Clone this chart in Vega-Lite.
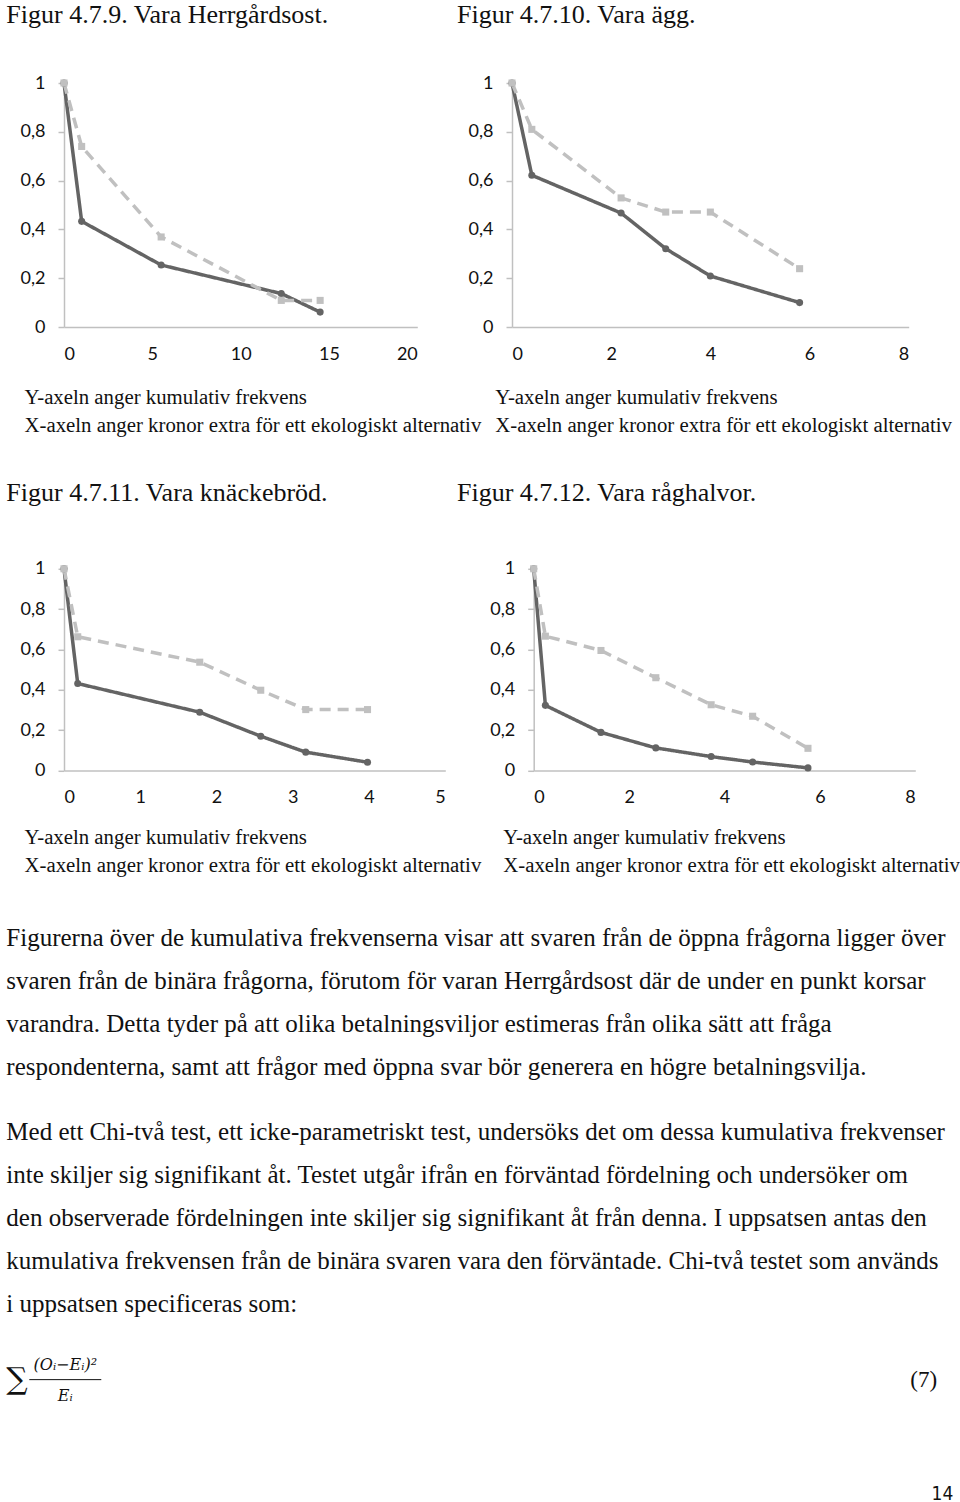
{
  "$schema": "https://vega.github.io/schema/vega-lite/v6.json",
  "background": "white",
  "padding": {"left": 5, "top": 1, "right": 0, "bottom": 0},
  "spacing": 42.8,
  "config": {
    "view": {"stroke": "transparent"},
    "title": {"font": "Liberation Serif", "fontSize": 26, "fontWeight": "normal", "color": "#111", "anchor": "start", "frame": "group"},
    "axis": {
      "grid": false, "domainColor": "#c0c0c0", "domainWidth": 1.5, "tickColor": "#c0c0c0", "tickWidth": 1.5,
      "labelFont": "Lato", "labelFontSize": 18, "labelColor": "#111",
      "titleFont": "Liberation Serif", "titleFontSize": 20.8, "titleFontWeight": "normal", "titleColor": "#111",
      "titleAlign": "left", "titleBaseline": "alphabetic", "titleLineHeight": 28
    },
    "axisX": {"ticks": false, "tickSize": 0, "labelPadding": 18},
    "axisY": {"tickSize": 6, "labelPadding": 13}
  },
  "datasets": {
    "charts": [
      {"chart": 1, "series": "binär", "x": 0, "y": 1},
      {"chart": 1, "series": "binär", "x": 1, "y": 0.433},
      {"chart": 1, "series": "binär", "x": 5.5, "y": 0.254},
      {"chart": 1, "series": "binär", "x": 12.3, "y": 0.137},
      {"chart": 1, "series": "binär", "x": 14.5, "y": 0.061},
      {"chart": 1, "series": "öppen", "x": 0, "y": 1},
      {"chart": 1, "series": "öppen", "x": 1, "y": 0.74},
      {"chart": 1, "series": "öppen", "x": 5.5, "y": 0.369},
      {"chart": 1, "series": "öppen", "x": 12.3, "y": 0.109},
      {"chart": 1, "series": "öppen", "x": 14.5, "y": 0.109},
      {"chart": 2, "series": "binär", "x": 0, "y": 1},
      {"chart": 2, "series": "binär", "x": 0.4, "y": 0.622},
      {"chart": 2, "series": "binär", "x": 2.2, "y": 0.467},
      {"chart": 2, "series": "binär", "x": 3.1, "y": 0.321},
      {"chart": 2, "series": "binär", "x": 4, "y": 0.209},
      {"chart": 2, "series": "binär", "x": 5.8, "y": 0.1},
      {"chart": 2, "series": "öppen", "x": 0, "y": 1},
      {"chart": 2, "series": "öppen", "x": 0.4, "y": 0.81},
      {"chart": 2, "series": "öppen", "x": 2.2, "y": 0.529},
      {"chart": 2, "series": "öppen", "x": 3.1, "y": 0.471},
      {"chart": 2, "series": "öppen", "x": 4, "y": 0.471},
      {"chart": 2, "series": "öppen", "x": 5.8, "y": 0.239},
      {"chart": 3, "series": "binär", "x": 0, "y": 1},
      {"chart": 3, "series": "binär", "x": 0.18, "y": 0.431},
      {"chart": 3, "series": "binär", "x": 1.78, "y": 0.289},
      {"chart": 3, "series": "binär", "x": 2.58, "y": 0.17},
      {"chart": 3, "series": "binär", "x": 3.17, "y": 0.091},
      {"chart": 3, "series": "binär", "x": 3.98, "y": 0.041},
      {"chart": 3, "series": "öppen", "x": 0, "y": 1},
      {"chart": 3, "series": "öppen", "x": 0.18, "y": 0.663},
      {"chart": 3, "series": "öppen", "x": 1.78, "y": 0.537},
      {"chart": 3, "series": "öppen", "x": 2.58, "y": 0.398},
      {"chart": 3, "series": "öppen", "x": 3.17, "y": 0.302},
      {"chart": 3, "series": "öppen", "x": 3.98, "y": 0.302},
      {"chart": 4, "series": "binär", "x": 0, "y": 1},
      {"chart": 4, "series": "binär", "x": 0.245, "y": 0.323},
      {"chart": 4, "series": "binär", "x": 1.41, "y": 0.189},
      {"chart": 4, "series": "binär", "x": 2.56, "y": 0.112},
      {"chart": 4, "series": "binär", "x": 3.72, "y": 0.069},
      {"chart": 4, "series": "binär", "x": 4.59, "y": 0.042},
      {"chart": 4, "series": "binär", "x": 5.75, "y": 0.013},
      {"chart": 4, "series": "öppen", "x": 0, "y": 1},
      {"chart": 4, "series": "öppen", "x": 0.245, "y": 0.666},
      {"chart": 4, "series": "öppen", "x": 1.41, "y": 0.595},
      {"chart": 4, "series": "öppen", "x": 2.56, "y": 0.46},
      {"chart": 4, "series": "öppen", "x": 3.72, "y": 0.326},
      {"chart": 4, "series": "öppen", "x": 4.59, "y": 0.269},
      {"chart": 4, "series": "öppen", "x": 5.75, "y": 0.11}
    ],
    "text": [
      {"kind": "body", "col": 0, "line": 0, "text": "Figurerna över de kumulativa frekvenserna visar att svaren från de öppna frågorna ligger över"},
      {"kind": "body", "col": 0, "line": 1, "text": "svaren från de binära frågorna, förutom för varan Herrgårdsost där de under en punkt korsar"},
      {"kind": "body", "col": 0, "line": 2, "text": "varandra. Detta tyder på att olika betalningsviljor estimeras från olika sätt att fråga"},
      {"kind": "body", "col": 0, "line": 3, "text": "respondenterna, samt att frågor med öppna svar bör generera en högre betalningsvilja."},
      {"kind": "body", "col": 0, "line": 4.51, "text": "Med ett Chi-två test, ett icke-parametriskt test, undersöks det om dessa kumulativa frekvenser"},
      {"kind": "body", "col": 0, "line": 5.51, "text": "inte skiljer sig signifikant åt. Testet utgår ifrån en förväntad fördelning och undersöker om"},
      {"kind": "body", "col": 0, "line": 6.51, "text": "den observerade fördelningen inte skiljer sig signifikant åt från denna. I uppsatsen antas den"},
      {"kind": "body", "col": 0, "line": 7.51, "text": "kumulativa frekvensen från de binära svaren vara den förväntade. Chi-två testet som används"},
      {"kind": "body", "col": 0, "line": 8.51, "text": "i uppsatsen specificeras som:"},
      {"kind": "sum", "col": 0, "line": 10.28, "text": "∑"},
      {"kind": "frac", "col": 0.0623, "line": 9.93, "text": "(Oᵢ−Eᵢ)²"},
      {"kind": "frac", "col": 0.0623, "line": 10.65, "text": "Eᵢ"},
      {"kind": "eq", "col": 0.983, "line": 10.3, "text": "(7)"},
      {"kind": "page", "col": 1, "line": 12.95, "text": "14"}
    ],
    "bars": [
      {"col": 0.0243, "col2": 0.1003, "line": 10.28}
    ]
  },
  "vconcat": [
    {
      "bounds": "flush",
      "spacing": 94,
      "hconcat": [
        {
          "width": 353.3, "height": 244,
          "title": {"text": "Figur 4.7.9. Vara Herrgårdsost.", "dx": -57.7, "offset": 45.7},
          "data": {"name": "charts"},
          "transform": [{"filter": "datum.chart == 1"}],
          "encoding": {
            "x": {"field": "x", "type": "quantitative", "scale": {"domain": [0, 20], "nice": false},
              "axis": {"values": [0, 5, 10, 15, 20], "title": ["Y-axeln anger kumulativ frekvens", "X-axeln anger kronor extra för ett ekologiskt alternativ"], "titleX": -40, "titleY": 76}},
            "y": {"field": "y", "type": "quantitative", "scale": {"domain": [0, 1]},
              "axis": {"values": [0, 0.2, 0.4, 0.6, 0.8, 1], "title": null, "labelExpr": "replace(format(datum.value, '~g'), '.', ',')"}},
            "color": {"field": "series", "type": "nominal", "scale": {"domain": ["binär", "öppen"], "range": ["#646464", "#c0c0c0"]}, "legend": null}
          },
          "layer": [
            {"mark": {"type": "line", "strokeWidth": 3.5},
              "encoding": {"strokeDash": {"field": "series", "type": "nominal", "scale": {"domain": ["binär", "öppen"], "range": [[1, 0], [11, 7]]}, "legend": null}}},
            {"mark": {"type": "point", "filled": true, "opacity": 1, "size": 50},
              "encoding": {"shape": {"field": "series", "type": "nominal", "scale": {"domain": ["binär", "öppen"], "range": ["circle", "square"]}, "legend": null}}}
          ]
        },
        {
          "width": 396.7, "height": 244,
          "title": {"text": "Figur 4.7.10. Vara ägg.", "dx": -55, "offset": 45.7},
          "data": {"name": "charts"},
          "transform": [{"filter": "datum.chart == 2"}],
          "encoding": {
            "x": {"field": "x", "type": "quantitative", "scale": {"domain": [0, 8], "nice": false},
              "axis": {"values": [0, 2, 4, 6, 8], "title": ["Y-axeln anger kumulativ frekvens", "X-axeln anger kronor extra för ett ekologiskt alternativ"], "titleX": -17.3, "titleY": 76}},
            "y": {"field": "y", "type": "quantitative", "scale": {"domain": [0, 1]},
              "axis": {"values": [0, 0.2, 0.4, 0.6, 0.8, 1], "title": null, "labelExpr": "replace(format(datum.value, '~g'), '.', ',')"}},
            "color": {"field": "series", "type": "nominal", "scale": {"domain": ["binär", "öppen"], "range": ["#646464", "#c0c0c0"]}, "legend": null}
          },
          "layer": [
            {"mark": {"type": "line", "strokeWidth": 3.5},
              "encoding": {"strokeDash": {"field": "series", "type": "nominal", "scale": {"domain": ["binär", "öppen"], "range": [[1, 0], [11, 7]]}, "legend": null}}},
            {"mark": {"type": "point", "filled": true, "opacity": 1, "size": 50},
              "encoding": {"shape": {"field": "series", "type": "nominal", "scale": {"domain": ["binär", "öppen"], "range": ["circle", "square"]}, "legend": null}}}
          ]
        }
      ]
    },
    {
      "bounds": "flush",
      "spacing": 87.7,
      "hconcat": [
        {
          "width": 381.3, "height": 201.7,
          "title": {"text": "Figur 4.7.11. Vara knäckebröd.", "dx": -57.7, "offset": 54},
          "data": {"name": "charts"},
          "transform": [{"filter": "datum.chart == 3"}],
          "encoding": {
            "x": {"field": "x", "type": "quantitative", "scale": {"domain": [0, 5], "nice": false},
              "axis": {"values": [0, 1, 2, 3, 4, 5], "title": ["Y-axeln anger kumulativ frekvens", "X-axeln anger kronor extra för ett ekologiskt alternativ"], "titleX": -40, "titleY": 72.7}},
            "y": {"field": "y", "type": "quantitative", "scale": {"domain": [0, 1]},
              "axis": {"values": [0, 0.2, 0.4, 0.6, 0.8, 1], "title": null, "labelExpr": "replace(format(datum.value, '~g'), '.', ',')"}},
            "color": {"field": "series", "type": "nominal", "scale": {"domain": ["binär", "öppen"], "range": ["#646464", "#c0c0c0"]}, "legend": null}
          },
          "layer": [
            {"mark": {"type": "line", "strokeWidth": 3.5},
              "encoding": {"strokeDash": {"field": "series", "type": "nominal", "scale": {"domain": ["binär", "öppen"], "range": [[1, 0], [11, 7]]}, "legend": null}}},
            {"mark": {"type": "point", "filled": true, "opacity": 1, "size": 50},
              "encoding": {"shape": {"field": "series", "type": "nominal", "scale": {"domain": ["binär", "öppen"], "range": ["circle", "square"]}, "legend": null}}}
          ]
        },
        {
          "width": 381.6, "height": 201.7,
          "title": {"text": "Figur 4.7.12. Vara råghalvor.", "dx": -76.7, "offset": 54},
          "data": {"name": "charts"},
          "transform": [{"filter": "datum.chart == 4"}],
          "encoding": {
            "x": {"field": "x", "type": "quantitative", "scale": {"domain": [0, 8], "nice": false},
              "axis": {"values": [0, 2, 4, 6, 8], "title": ["Y-axeln anger kumulativ frekvens", "X-axeln anger kronor extra för ett ekologiskt alternativ"], "titleX": -31, "titleY": 72.7}},
            "y": {"field": "y", "type": "quantitative", "scale": {"domain": [0, 1]},
              "axis": {"values": [0, 0.2, 0.4, 0.6, 0.8, 1], "title": null, "labelExpr": "replace(format(datum.value, '~g'), '.', ',')"}},
            "color": {"field": "series", "type": "nominal", "scale": {"domain": ["binär", "öppen"], "range": ["#646464", "#c0c0c0"]}, "legend": null}
          },
          "layer": [
            {"mark": {"type": "line", "strokeWidth": 3.5},
              "encoding": {"strokeDash": {"field": "series", "type": "nominal", "scale": {"domain": ["binär", "öppen"], "range": [[1, 0], [11, 7]]}, "legend": null}}},
            {"mark": {"type": "point", "filled": true, "opacity": 1, "size": 50},
              "encoding": {"shape": {"field": "series", "type": "nominal", "scale": {"domain": ["binär", "öppen"], "range": ["circle", "square"]}, "legend": null}}}
          ]
        }
      ]
    },
    {
      "width": 889.3, "height": 580,
      "layer": [
        {
          "data": {"name": "text"},
          "transform": [{"filter": "datum.kind == 'body'"}],
          "mark": {"type": "text", "align": "left", "baseline": "middle", "font": "Liberation Serif", "fontSize": 25, "color": "#111"},
          "encoding": {
            "x": {"field": "col", "type": "quantitative", "scale": {"domain": [0, 1], "range": [-57.7, 889.3], "nice": false, "zero": false}, "axis": null},
            "y": {"field": "line", "type": "quantitative", "scale": {"domain": [-0.418, 13.07], "reverse": true, "nice": false, "zero": false}, "axis": null},
            "text": {"field": "text"}
          }
        },
        {
          "data": {"name": "text"},
          "transform": [{"filter": "datum.kind == 'sum'"}],
          "mark": {"type": "text", "align": "left", "baseline": "middle", "font": "DejaVu Serif", "fontSize": 30, "color": "#111"},
          "encoding": {
            "x": {"field": "col", "type": "quantitative"},
            "y": {"field": "line", "type": "quantitative"},
            "text": {"field": "text"}
          }
        },
        {
          "data": {"name": "text"},
          "transform": [{"filter": "datum.kind == 'frac'"}],
          "mark": {"type": "text", "align": "center", "baseline": "middle", "font": "DejaVu Serif", "fontStyle": "italic", "fontSize": 16, "color": "#111"},
          "encoding": {
            "x": {"field": "col", "type": "quantitative"},
            "y": {"field": "line", "type": "quantitative"},
            "text": {"field": "text"}
          }
        },
        {
          "data": {"name": "text"},
          "transform": [{"filter": "datum.kind == 'eq'"}],
          "mark": {"type": "text", "align": "right", "baseline": "middle", "font": "Liberation Serif", "fontSize": 23, "color": "#111"},
          "encoding": {
            "x": {"field": "col", "type": "quantitative"},
            "y": {"field": "line", "type": "quantitative"},
            "text": {"field": "text"}
          }
        },
        {
          "data": {"name": "text"},
          "transform": [{"filter": "datum.kind == 'page'"}],
          "mark": {"type": "text", "align": "right", "baseline": "middle", "font": "DejaVu Sans Condensed", "fontSize": 19, "color": "#111"},
          "encoding": {
            "x": {"field": "col", "type": "quantitative"},
            "y": {"field": "line", "type": "quantitative"},
            "text": {"field": "text"}
          }
        },
        {
          "data": {"name": "bars"},
          "mark": {"type": "rule", "color": "#111", "strokeWidth": 1},
          "encoding": {
            "x": {"field": "col", "type": "quantitative"},
            "x2": {"field": "col2"},
            "y": {"field": "line", "type": "quantitative"}
          }
        }
      ]
    }
  ]
}
